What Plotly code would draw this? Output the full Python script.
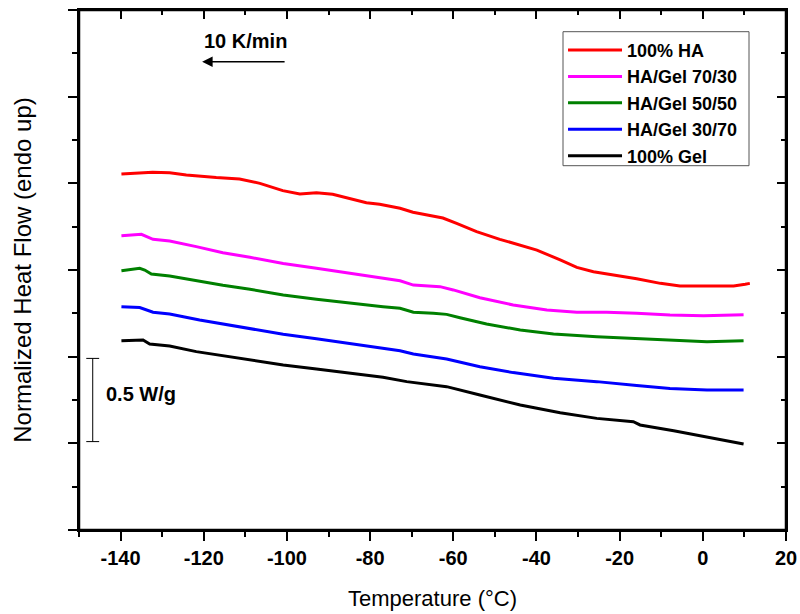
import plotly.graph_objects as go

# Temperature (°C) and normalized heat flow (W/g, offset, arbitrary zero) per series
ha100_T = [-139.8, -132.3, -128.2, -124.2, -117.0, -111.4, -106.5, -101.0, -96.9, -92.9, -89.0,
           -80.9, -77.7, -72.8, -69.7, -62.5, -59.2, -54.4, -48.8, -44.0, -39.9, -34.3, -30.3,
           -26.3, -21.5, -15.9, -10.2, -5.5, 0.2, 7.4, 10.2, 11.3]
ha100_Q = [2.054, 2.064, 2.061, 2.048, 2.033, 2.025, 2.000, 1.958, 1.938, 1.946, 1.937,
           1.888, 1.879, 1.856, 1.833, 1.800, 1.769, 1.721, 1.677, 1.644, 1.615, 1.558, 1.515,
           1.490, 1.471, 1.450, 1.423, 1.408, 1.408, 1.408, 1.418, 1.423]

g7030_T = [-139.8, -135.0, -132.2, -128.2, -121.8, -115.4, -108.9, -100.9, -92.9, -84.9, -76.9,
           -72.8, -69.6, -63.2, -60.0, -53.6, -45.6, -37.5, -30.3, -23.1, -15.9, -7.9, 0.2, 9.8]
g7030_Q = [1.698, 1.706, 1.677, 1.667, 1.635, 1.600, 1.573, 1.538, 1.510, 1.481, 1.456,
           1.438, 1.413, 1.404, 1.385, 1.340, 1.298, 1.269, 1.256, 1.256, 1.250, 1.240, 1.236, 1.242]

g5050_T = [-139.8, -135.4, -134.2, -132.6, -128.2, -121.0, -115.4, -108.9, -100.9, -92.9, -84.9,
           -76.9, -72.8, -69.6, -64.8, -61.6, -58.4, -52.0, -43.9, -35.9, -25.5, -15.9, -7.0, 1.0, 9.8]
g5050_Q = [1.496, 1.510, 1.500, 1.477, 1.465, 1.433, 1.412, 1.389, 1.356, 1.331, 1.308,
           1.288, 1.279, 1.256, 1.250, 1.244, 1.225, 1.188, 1.154, 1.131, 1.115, 1.106, 1.096, 1.086, 1.092]

g3070_T = [-139.8, -135.4, -132.2, -128.2, -121.0, -115.4, -108.9, -100.9, -92.9, -84.9, -76.9,
           -72.8, -69.6, -61.6, -53.6, -45.6, -35.9, -25.5, -15.9, -7.9, 1.0, 9.8]
g3070_Q = [1.288, 1.283, 1.256, 1.246, 1.212, 1.188, 1.164, 1.129, 1.104, 1.077, 1.050,
           1.034, 1.015, 0.987, 0.942, 0.908, 0.875, 0.856, 0.833, 0.817, 0.808, 0.808]

gel100_T = [-139.8, -134.6, -133.0, -128.2, -121.8, -115.4, -108.9, -100.9, -92.9, -84.9, -76.9,
            -71.2, -64.8, -61.6, -53.6, -43.9, -34.3, -25.5, -16.7, -15.1, -7.0, 1.0, 9.8]
gel100_Q = [1.092, 1.096, 1.073, 1.062, 1.029, 1.006, 0.981, 0.952, 0.929, 0.904, 0.881,
            0.856, 0.837, 0.827, 0.779, 0.721, 0.677, 0.644, 0.625, 0.606, 0.573, 0.538, 0.496]

names = ["100% HA", "HA/Gel 70/30", "HA/Gel 50/50", "HA/Gel 30/70", "100% Gel"]
colors = ["#ff0000", "#ff00ff", "#008000", "#0000ff", "#000000"]
series = [(ha100_T, ha100_Q), (g7030_T, g7030_Q), (g5050_T, g5050_Q),
          (g3070_T, g3070_Q), (gel100_T, gel100_Q)]

x_tickvals = [-140, -120, -100, -80, -60, -40, -20, 0, 20]
x_ticktext = ["-140", "-120", "-100", "-80", "-60", "-40", "-20", "0", "20"]
x_range = [-150, 20]
y_range = [0, 3]
scale_bar = [0.51, 0.99]   # 0.5 W/g bar
scale_bar_x = -146.7

FONT = "Arial, Liberation Sans, sans-serif"

fig = go.Figure()
for (t, q), n, c in zip(series, names, colors):
    fig.add_trace(go.Scatter(x=t, y=q, mode="lines", name="<b>%s</b>" % n,
                             line=dict(color=c, width=3)))
# dummy trace to host the mirror axes
fig.add_trace(go.Scatter(x=[None], y=[None], xaxis="x2", yaxis="y2",
                         showlegend=False, hoverinfo="skip"))

common = dict(showgrid=False, zeroline=False, showline=True, linecolor="black",
              linewidth=2, tickcolor="black", tickwidth=2, automargin=False)

fig.update_layout(
    width=800, height=614,
    margin=dict(l=79, r=14, t=10, b=84),
    paper_bgcolor="white", plot_bgcolor="white",
    font=dict(family=FONT, color="black"),
    showlegend=True,
    legend=dict(x=0.6846, y=0.958, xanchor="left", yanchor="top",
                bgcolor="rgba(255,255,255,0)", borderwidth=0,
                font=dict(family=FONT, size=18, color="black"),
                itemwidth=54, tracegroupgap=0),
    xaxis=dict(range=x_range, tickmode="array", tickvals=x_tickvals, ticktext=x_ticktext,
               ticks="outside", ticklen=9, ticklabelstandoff=0,
               tickfont=dict(family=FONT, size=20, weight="bold"),
               minor=dict(dtick=10, tick0=0, ticks="outside", ticklen=5,
                          tickcolor="black", tickwidth=2),
               title=dict(text="Temperature (°C)", font=dict(family=FONT, size=22),
                          standoff=23),
               **common),
    yaxis=dict(range=y_range, tickmode="linear", tick0=0, dtick=0.5,
               ticks="outside", ticklen=9, showticklabels=False,
               minor=dict(dtick=0.25, tick0=0, ticks="outside", ticklen=5,
                          tickcolor="black", tickwidth=2),
               title=dict(text="Normalized Heat Flow (endo up)",
                          font=dict(family=FONT, size=24), standoff=30),
               **common),
    xaxis2=dict(range=x_range, overlaying="x", side="top", anchor="y2",
                tickmode="linear", tick0=0, dtick=20, ticks="inside", ticklen=9,
                showticklabels=False,
                minor=dict(dtick=10, tick0=0, ticks="inside", ticklen=5,
                           tickcolor="black", tickwidth=2),
                **common),
    yaxis2=dict(range=y_range, overlaying="y", side="right", anchor="x2",
                tickmode="linear", tick0=0, dtick=0.5, ticks="inside", ticklen=9,
                showticklabels=False,
                minor=dict(dtick=0.25, tick0=0, ticks="inside", ticklen=5,
                           tickcolor="black", tickwidth=2),
                **common),
)

# plot frame
fig.add_shape(type="rect", xref="paper", yref="paper", x0=0, x1=1, y0=0, y1=1,
              line=dict(color="black", width=2.5), layer="above")

# legend frame
fig.add_shape(type="rect", xref="paper", yref="paper",
              x0=(563 - 79) / 707, x1=(749 - 79) / 707,
              y0=(530 - 165.7) / 520, y1=(530 - 31.7) / 520,
              line=dict(color="#555555", width=1), layer="above")

# scale bar
fig.add_shape(type="line", xref="x", yref="y", x0=scale_bar_x, x1=scale_bar_x,
              y0=scale_bar[0], y1=scale_bar[1], line=dict(color="black", width=1))
for yv in scale_bar:
    fig.add_shape(type="line", xref="x", yref="y", x0=scale_bar_x - 1.55,
                  x1=scale_bar_x + 1.55, y0=yv, y1=yv, line=dict(color="black", width=1))
fig.add_annotation(x=-144.1, y=0.785, xref="x", yref="y",
                   text="<b>0.5 W/g</b>", showarrow=False, xanchor="left", yanchor="middle",
                   font=dict(family=FONT, size=20, color="black"))

# heating-rate arrow
fig.add_annotation(x=-120.4, y=2.702, xref="x", yref="y", ax=84, ay=0,
                   text="", showarrow=True, arrowhead=2, arrowsize=1.4, arrowwidth=1.5,
                   arrowcolor="black")
fig.add_annotation(x=-109.9, y=2.82, xref="x", yref="y", text="<b>10 K/min</b>",
                   showarrow=False, xanchor="center", yanchor="middle",
                   font=dict(family=FONT, size=20, color="black"))

fig.write_html("out.html", config={"displayModeBar": False},
               post_script="document.body.style.margin='0';document.body.style.overflow='hidden';")
